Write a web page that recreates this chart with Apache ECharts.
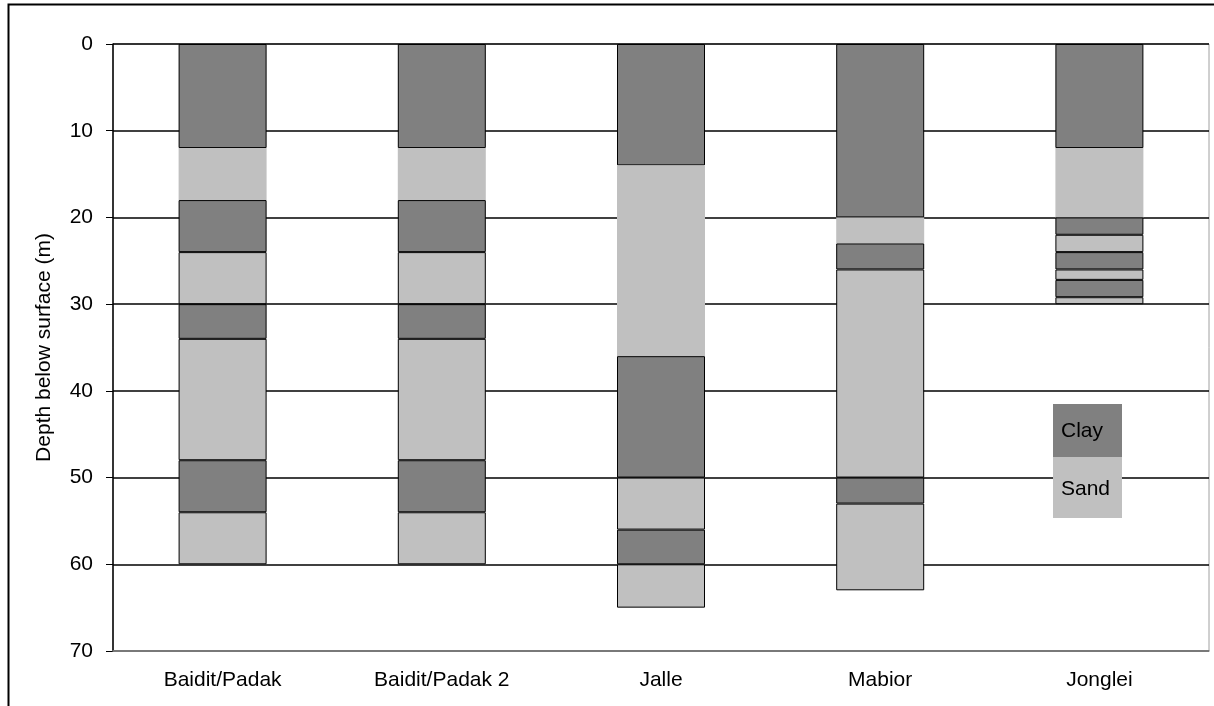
<!DOCTYPE html>
<html>
<head>
<meta charset="utf-8">
<script src="https://cdn.jsdelivr.net/npm/echarts@6/dist/echarts.min.js"></script>
<style>
  html, body { margin: 0; padding: 0; background: #fff; }
  #chart { width: 1214px; height: 706px; }
</style>
</head>
<body>
<div id="chart"></div>
<script>
// Sites (categories)
const categories = ['Baidit/Padak', 'Baidit/Padak 2', 'Jalle', 'Mabior', 'Jonglei'];
// Layer thicknesses (m), top to bottom, alternating Clay / Sand starting with Clay
const baiditPadak  = [12, 6, 6, 6, 4, 14, 6, 6];
const baiditPadak2 = [12, 6, 6, 6, 4, 14, 6, 6];
const jalle        = [14, 22, 14, 6, 4, 5];
const mabior       = [20, 3, 3, 24, 3, 10];
const jonglei      = [12, 8, 2, 2, 2, 1.2, 2, 0.8];
// Depth axis ticks
const depthTicks = [0, 10, 20, 30, 40, 50, 60, 70];
const legendNames = ['Clay', 'Sand'];

const CLAY = '#808080';
const SAND = '#c0c0c0';
const FONT = "'Liberation Sans', Arial, sans-serif";

const sites = [baiditPadak, baiditPadak2, jalle, mabior, jonglei];
const nLayers = Math.max(...sites.map(s => s.length));

const series = [];
for (let i = 0; i < nLayers; i++) {
  const isClay = i % 2 === 0;
  const color = isClay ? CLAY : SAND;
  // second layer (first sand) has no visible black outline in the original
  const firstSand = (i === 1);
  series.push({
    name: isClay ? 'Clay' : 'Sand',
    type: 'bar',
    stack: 'depth',
    barWidth: 88,
    z: 2 + i,
    data: sites.map(s => (s[i] === undefined ? '-' : s[i])),
    itemStyle: { color: color, borderColor: firstSand ? SAND : '#000', borderWidth: firstSand ? 2.5 : 1 },
    emphasis: { disabled: true },
    animation: false
  });
}

const chart = echarts.init(document.getElementById('chart'), null, { renderer: 'canvas' });
chart.setOption({
  animation: false,
  backgroundColor: '#fff',
  grid: {
    left: 113, right: 5, top: 44, bottom: 55,
    show: true, borderColor: '#a0a0a0', borderWidth: 1, backgroundColor: 'transparent'
  },
  xAxis: {
    type: 'category',
    data: categories,
    position: 'bottom',
    z: 20,
    axisLine: { onZero: false, lineStyle: { color: '#909090', width: 1.5 } },
    axisTick: { show: false },
    axisLabel: { color: '#000', fontFamily: FONT, fontSize: 21, margin: 19 }
  },
  yAxis: {
    type: 'value',
    inverse: true,
    min: depthTicks[0],
    max: depthTicks[depthTicks.length - 1],
    interval: 10,
    name: 'Depth below surface (m)',
    nameLocation: 'middle',
    nameGap: 58,
    nameTextStyle: { color: '#000', fontFamily: FONT, fontSize: 21 },
    axisLine: { show: true, lineStyle: { color: '#000', width: 1.5 } },
    axisTick: { show: true, inside: false, length: 7, lineStyle: { color: '#000' } },
    axisLabel: { color: '#000', fontFamily: FONT, fontSize: 21, margin: 20 },
    splitLine: { show: true, lineStyle: { color: '#000', width: 1.5 } }
  },
  series: series,
  graphic: [
    // outer chart frame
    { type: 'rect', shape: { x: 8.5, y: 4.5, width: 1230, height: 720 },
      style: { fill: 'none', stroke: '#000', lineWidth: 2 }, z: 100 },
    // legend
    { type: 'rect', shape: { x: 1053, y: 404, width: 69, height: 53 },
      style: { fill: CLAY }, z: 100 },
    { type: 'rect', shape: { x: 1053, y: 457, width: 69, height: 61 },
      style: { fill: SAND }, z: 100 },
    { type: 'text', x: 1061, y: 431, z: 101,
      style: { text: legendNames[0], fill: '#000', font: "21px 'Liberation Sans', Arial, sans-serif", verticalAlign: 'middle' } },
    { type: 'text', x: 1061, y: 489, z: 101,
      style: { text: legendNames[1], fill: '#000', font: "21px 'Liberation Sans', Arial, sans-serif", verticalAlign: 'middle' } }
  ]
});
</script>
</body>
</html>
